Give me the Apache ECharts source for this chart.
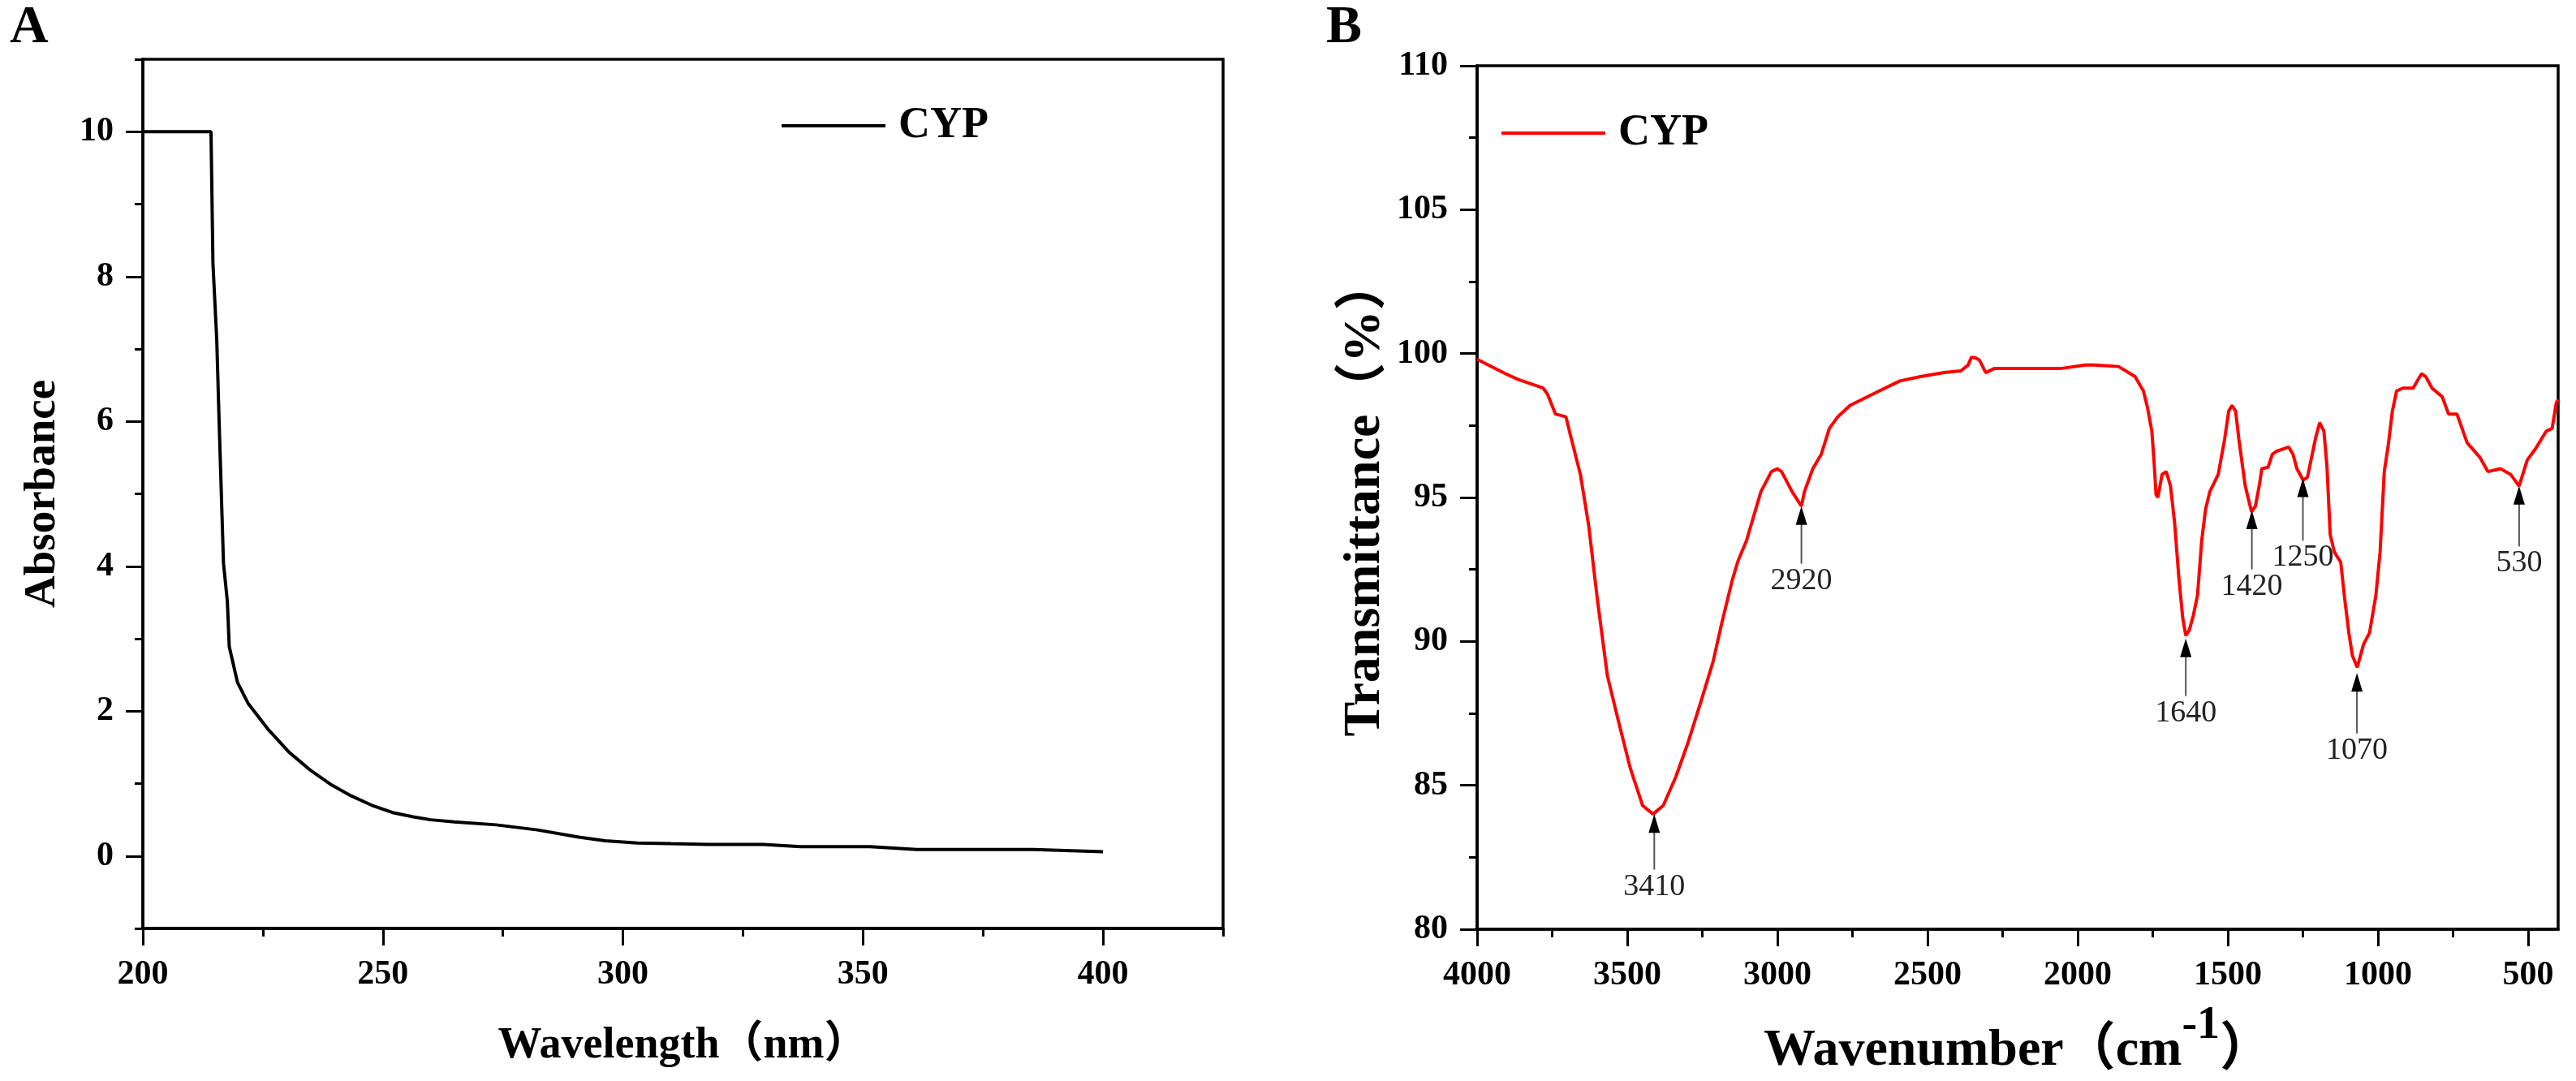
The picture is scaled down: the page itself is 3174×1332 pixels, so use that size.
<!DOCTYPE html>
<html>
<head>
<meta charset="utf-8">
<script src="https://cdn.jsdelivr.net/npm/echarts@6/dist/echarts.min.js"></script>
<style>
html,body{margin:0;padding:0;background:#fff;}
#chart{width:3174px;height:1332px;}
</style>
</head>
<body>
<div id="chart"></div>
<script>
// ---------- Panel A : UV absorbance ----------
const uvWavelength = [200, 205, 210, 214.2, 214.6, 215.4, 215.9, 216.8, 217.6, 218.0, 219.7, 221.9, 226.2, 230.5, 234.8, 239.1, 243.4, 247.7, 252.0, 256.3, 260, 264.9, 273.6, 282.2, 290.8, 296.3, 303, 310, 317.6, 329.2, 337, 351.5, 361.2, 375, 385.5, 400];
const uvAbsorbance = [10, 10, 10, 10, 8.19, 7.12, 5.97, 4.04, 3.52, 2.89, 2.40, 2.11, 1.74, 1.43, 1.19, 0.99, 0.83, 0.70, 0.60, 0.54, 0.50, 0.47, 0.43, 0.36, 0.26, 0.21, 0.18, 0.17, 0.16, 0.16, 0.13, 0.13, 0.09, 0.09, 0.09, 0.06];
const uvXTicks = [200, 250, 300, 350, 400];
const uvXMinor = [225, 275, 325, 375, 425];
const uvYTicks = [0, 2, 4, 6, 8, 10];
const uvYMinor = [-1, 1, 3, 5, 7, 9, 11];

// ---------- Panel B : FT-IR transmittance ----------
const irWavenumber = [4000, 3905, 3863, 3780, 3766, 3739, 3704, 3690, 3656, 3628, 3600, 3566, 3531, 3490, 3449, 3414, 3380, 3338, 3297, 3255, 3214, 3186, 3151, 3131, 3103, 3055, 3020, 3000, 2986, 2951, 2920, 2910, 2882, 2854, 2827, 2799, 2758, 2661, 2592, 2523, 2444, 2389, 2365, 2354, 2340, 2327, 2306, 2278, 2057, 1974, 1947, 1864, 1809, 1781, 1767, 1753, 1746, 1739, 1733, 1719, 1705, 1691, 1677, 1663, 1650, 1640, 1628, 1615, 1601, 1587, 1574, 1560, 1532, 1511, 1497, 1486, 1474, 1463, 1442, 1421, 1408, 1394, 1387, 1366, 1352, 1339, 1311, 1297, 1283, 1270, 1249, 1235, 1221, 1207, 1194, 1180, 1170, 1159, 1145, 1124, 1111, 1097, 1085, 1069, 1048, 1028, 1007, 993, 979, 966, 952, 938, 917, 883, 855, 841, 820, 786, 765, 737, 703, 661, 634, 592, 558, 530, 503, 475, 440, 420, 406, 400];
const irTransmittance = [99.8, 99.3, 99.1, 98.8, 98.6, 97.9, 97.8, 97.2, 95.8, 94.0, 91.5, 88.8, 87.3, 85.6, 84.3, 84.0, 84.3, 85.3, 86.5, 87.9, 89.3, 90.6, 92.1, 92.8, 93.5, 95.2, 95.9, 96.0, 95.9, 95.2, 94.7, 95.2, 96.0, 96.5, 97.4, 97.8, 98.2, 98.7, 99.05, 99.2, 99.34, 99.4, 99.6, 99.87, 99.85, 99.77, 99.34, 99.48, 99.48, 99.6, 99.6, 99.55, 99.2, 98.7, 98.1, 97.3, 96.3, 95.1, 95.0, 95.8, 95.9, 95.4, 94.1, 92.2, 90.8, 90.2, 90.4, 90.9, 91.6, 93.5, 94.6, 95.2, 95.8, 97.0, 98.0, 98.2, 98.0, 97.0, 95.4, 94.5, 94.7, 95.5, 96.0, 96.05, 96.5, 96.6, 96.7, 96.75, 96.5, 96.0, 95.6, 95.7, 96.4, 97.1, 97.6, 97.3, 96.1, 93.7, 93.1, 92.75, 91.5, 90.3, 89.5, 89.1, 89.9, 90.3, 91.6, 93.1, 95.9, 96.8, 98.0, 98.7, 98.8, 98.8, 99.3, 99.2, 98.8, 98.5, 97.9, 97.9, 96.9, 96.4, 95.9, 96.0, 95.8, 95.4, 96.3, 96.7, 97.3, 97.4, 98.3, 98.4];
const irXTicks = [500, 1000, 1500, 2000, 2500, 3000, 3500, 4000];
const irXMinor = [750, 1250, 1750, 2250, 2750, 3250, 3750];

// peak annotations: wavenumber, arrow tip value, arrow tail value
const peakLabels = ['3410', '2920', '1640', '1420', '1250', '1070', '530'];
const peakPos = [3410, 2920, 1640, 1420, 1250, 1070, 530];
const peakTip = [84.0, 94.7, 90.1, 94.55, 95.66, 88.9, 95.4];
const peakTail = [82.07, 92.7, 88.1, 92.5, 93.5, 86.8, 93.3];

const FONT = "'Liberation Serif', 'Noto Sans CJK SC', serif";
const tickLabel = {fontSize: 42, fontWeight: 'bold', color: '#000', fontFamily: FONT, formatter: v => String(v)};
const axisLineStyle = {color: '#000', width: 3.5};

const chart = echarts.init(document.getElementById('chart'), null, {renderer: 'canvas'});

function mainAxis(extra) {
  return Object.assign({
    type: 'value',
    axisLine: {show: true, onZero: false, lineStyle: axisLineStyle},
    splitLine: {show: false},
    nameTextStyle: {fontWeight: 'bold', color: '#000', fontFamily: FONT},
  }, extra);
}
function minorAxis(extra, values) {
  return Object.assign({
    type: 'value',
    axisLine: {show: false, onZero: false},
    axisLabel: {show: false},
    splitLine: {show: false},
    axisTick: {show: true, inside: false, length: 10, lineStyle: {color: '#000', width: 3}, customValues: values}
  }, extra);
}

const option = {
  backgroundColor: '#fff',
  animation: false,
  title: [
    {text: 'A', left: 12, top: 2, padding: 0, textStyle: {fontSize: 66, fontWeight: 'bold', color: '#000', fontFamily: FONT}},
    {text: 'B', left: 1634, top: 2, padding: 0, textStyle: {fontSize: 66, fontWeight: 'bold', color: '#000', fontFamily: FONT}}
  ],
  legend: [
    {left: 963, top: 128, padding: 0, itemWidth: 128, itemHeight: 4, icon: 'rect', selectedMode: false,
     data: [{name: 'CYP', itemStyle: {color: '#000'}}],
     textStyle: {fontSize: 54, fontWeight: 'bold', color: '#000', fontFamily: FONT, padding: [0, 0, 0, 11]}},
    {left: 1850, top: 137, padding: 0, itemWidth: 128, itemHeight: 4, icon: 'rect', selectedMode: false,
     data: [{name: 'CYP', itemStyle: {color: '#ff0000'}}],
     textStyle: {fontSize: 54, fontWeight: 'bold', color: '#000', fontFamily: FONT, padding: [0, 0, 0, 11]}}
  ],
  grid: [
    {left: 176, top: 73, width: 1331, height: 1071, show: true, borderColor: '#000', borderWidth: 3.5, backgroundColor: 'transparent'},
    {left: 1820, top: 81, width: 1332, height: 1073, show: true, borderColor: '#000', borderWidth: 3.5, backgroundColor: 'transparent'}
  ],
  xAxis: [
    mainAxis({gridIndex: 0, position: 'bottom', min: 200, max: 425,
      axisTick: {show: true, inside: false, length: 21, lineStyle: {color: '#000', width: 3}, customValues: uvXTicks},
      axisLabel: Object.assign({margin: 36, customValues: uvXTicks}, tickLabel),
      name: 'Wavelength（nm）', nameLocation: 'middle', nameGap: 118,
      nameTextStyle: {fontSize: 54, fontWeight: 'bold', color: '#000', fontFamily: FONT}}),
    minorAxis({gridIndex: 0, position: 'bottom', min: 200, max: 425}, uvXMinor),
    mainAxis({gridIndex: 1, position: 'bottom', min: 400, max: 4000, inverse: true,
      axisTick: {show: true, inside: false, length: 21, lineStyle: {color: '#000', width: 3}, customValues: irXTicks},
      axisLabel: Object.assign({margin: 36, customValues: irXTicks}, tickLabel),
      name: '{t|Wavenumber（cm}{s|-1}{t|）}', nameLocation: 'middle', nameGap: 92,
      nameTextStyle: {rich: {
        t: {fontSize: 64, fontWeight: 'bold', color: '#000', fontFamily: FONT, lineHeight: 90, verticalAlign: 'bottom'},
        s: {fontSize: 56, fontWeight: 'bold', color: '#000', fontFamily: FONT, lineHeight: 60, verticalAlign: 'top'}
      }}}),
    minorAxis({gridIndex: 1, position: 'bottom', min: 400, max: 4000, inverse: true}, irXMinor)
  ],
  yAxis: [
    mainAxis({gridIndex: 0, position: 'left', min: -1, max: 11,
      axisTick: {show: true, inside: false, length: 21, lineStyle: {color: '#000', width: 3}, customValues: uvYTicks},
      axisLabel: Object.assign({margin: 36, customValues: uvYTicks}, tickLabel),
      name: 'Absorbance', nameLocation: 'middle', nameGap: 96,
      nameTextStyle: {fontSize: 55, fontWeight: 'bold', color: '#000', fontFamily: FONT}}),
    minorAxis({gridIndex: 0, position: 'left', min: -1, max: 11}, uvYMinor),
    mainAxis({gridIndex: 1, position: 'left', min: 80, max: 110, interval: 5,
      axisTick: {show: true, inside: false, length: 21, lineStyle: {color: '#000', width: 3}},
      minorTick: {show: true, splitNumber: 2, length: 10, lineStyle: {color: '#000', width: 3}},
      axisLabel: Object.assign({margin: 36}, tickLabel),
      name: 'Transmittance（%）', nameLocation: 'middle', nameGap: 106,
      nameTextStyle: {fontSize: 64, fontWeight: 'bold', color: '#000', fontFamily: FONT}})
  ],
  series: [
    {name: 'CYP', type: 'line', xAxisIndex: 0, yAxisIndex: 0, showSymbol: false, symbol: 'none',
     lineStyle: {color: '#000', width: 4}, itemStyle: {color: '#000'},
     data: uvWavelength.map((x, i) => [x, uvAbsorbance[i]])},
    {name: 'CYP', type: 'line', xAxisIndex: 2, yAxisIndex: 2, showSymbol: false, symbol: 'none',
     lineStyle: {color: '#ff0000', width: 4}, itemStyle: {color: '#ff0000'},
     data: irWavenumber.map((x, i) => [x, irTransmittance[i]])},
    {type: 'custom', xAxisIndex: 2, yAxisIndex: 2, silent: true, z: 10,
     data: peakPos.map((x, i) => [x, peakTip[i], peakTail[i]]),
     renderItem: function (params, api) {
       const tip = api.coord([api.value(0), api.value(1)]);
       const tail = api.coord([api.value(0), api.value(2)]);
       const h = 23, w = 14;
       return {type: 'group', children: [
         {type: 'line', shape: {x1: tail[0], y1: tail[1], x2: tip[0], y2: tip[1] + h - 2},
          style: {stroke: '#555', lineWidth: 2}},
         {type: 'polygon', shape: {points: [[tip[0], tip[1]], [tip[0] - w / 2, tip[1] + h], [tip[0] + w / 2, tip[1] + h]]},
          style: {fill: '#000'}},
         {type: 'text', x: tip[0], y: tail[1] + 2,
          style: {text: peakLabels[params.dataIndex], fill: '#222', fontSize: 38, fontFamily: FONT, align: 'center', verticalAlign: 'top'}}
       ]};
     }}
  ]
};
chart.setOption(option);
</script>
</body>
</html>
